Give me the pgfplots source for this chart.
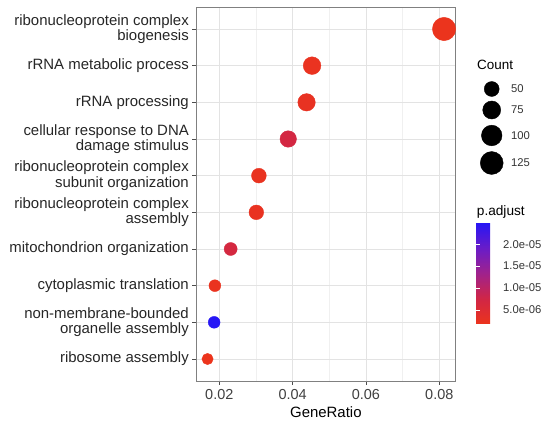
\documentclass[border=0pt]{standalone}
\usepackage{pgfplots}
\pgfplotsset{compat=1.18}
\usepackage{pgfplotstable}
\usepackage{fontspec}
\setmainfont{Liberation Sans}

\pgfplotstableread{
pos ratio count p
10 0.0813 130 2.0e-6
9  0.0453 72  2.3e-6
8  0.0438 70  2.6e-6
7  0.0388 62  7.0e-6
6  0.0308 49  2.4e-6
5  0.0301 48  2.5e-6
4  0.0231 37  6.8e-6
3  0.0188 30  2.2e-6
2  0.0186 30  2.49e-5
1  0.0168 27  1.8e-6
}\godata

\pgfplotstableread{
x y count
491.7 89 50
491.7 110 75
491.7 135.5 100
491.7 163 125
}\sizelegend

\pgfplotsset{
  colormap={ggrb}{rgb255(0)=(236,52,28); rgb255(1)=(208,38,70); rgb255(2)=(160,34,140); rgb255(3)=(105,28,200); rgb255(4)=(38,22,245)},
}

\begin{document}
\begin{tikzpicture}
\useasboundingbox (0,0) rectangle (549bp,421bp);
\begin{axis}[
  at={(196bp,40bp)}, anchor=south west,
  scale only axis, width=259.7bp, height=374bp,
  xmin=0.01365, xmax=0.08447, ymin=0.4, ymax=10.6,
  scaled x ticks=false,
  xtick={0.02,0.04,0.06,0.08},
  xticklabels={0.02,0.04,0.06,0.08},
  minor xtick={0.03,0.05,0.07},
  ytick={1,2,3,4,5,6,7,8,9,10},
  yticklabels={{ribosome assembly},{non-membrane-bounded\\organelle assembly},{cytoplasmic translation},{mitochondrion organization},{ribonucleoprotein complex\\assembly},{ribonucleoprotein complex\\subunit organization},{cellular response to DNA\\damage stimulus},{rRNA processing},{rRNA metabolic process},{ribonucleoprotein complex\\biogenesis}},
  xmajorgrids, xminorgrids, ymajorgrids,
  major grid style={black!11, line width=0.6bp},
  minor grid style={black!6, line width=0.5bp},
  axis line style={black!50, line width=0.7bp},
  tick align=outside, major tick length=3.5bp, minor tick length=0pt,
  tick style={black!70, line width=0.6bp},
  xtick pos=lower, ytick pos=left,
  xticklabel style={font=\fontsize{14.5}{14.5}\selectfont, text=black!75, inner sep=0pt, yshift=-5bp},
  yticklabel style={font=\fontsize{15}{15.3}\selectfont, text=black!85, align=right, inner sep=0pt, xshift=-3.5bp},
  xlabel={GeneRatio},
  xlabel style={font=\fontsize{15}{15}\selectfont, at={(axis description cs:0.5,0)}, anchor=center, yshift=-30.7bp},
  /pgf/number format/assume math mode=true,
  colormap name=ggrb,
  point meta min=1.8, point meta max=24.9,
  colorbar shift/.style={},
  colorbar,
  colorbar style={
    at={(parent axis.south east)}, anchor=south west, xshift=20.3bp, yshift=57bp,
    scale only axis, width=21.7bp, height=101.3bp,
    ytick={5,10,15,20},
    yticklabels={5.0e-06,1.0e-05,1.5e-05,2.0e-05},
    yticklabel pos=right,
    tick align=inside, major tick length=4.3bp,
    ytick style={white, line width=0.7bp},
    axis line style={draw=none},
    yticklabel style={font=\fontsize{11.3}{11.3}\selectfont, text=black!80, inner sep=0pt, xshift=5.3bp, anchor=west},
    xtick=\empty,
    ytick pos=both,
  },
]
\addplot[scatter, only marks, mark=*,
  point meta={\thisrow{p}*1e6},
  scatter/use mapped color={draw=mapped color, fill=mapped color},
  visualization depends on={0.62+0.973*sqrt(\thisrow{count}) \as \rad},
  scatter/@pre marker code/.append style={/tikz/mark size=\rad},
] table[x=ratio, y=pos] {\godata};
\end{axis}
\begin{axis}[
  at={(0,0)}, anchor=south west,
  scale only axis, width=549bp, height=421bp,
  xmin=0, xmax=549, ymin=0, ymax=421, y dir=reverse,
  hide axis, clip=false,
]
\addplot[scatter, only marks, mark=*, point meta=0,
  scatter/use mapped color={draw=black, fill=black},
  visualization depends on={0.62+0.973*sqrt(\thisrow{count}) \as \rad},
  scatter/@pre marker code/.append style={/tikz/mark size=\rad},
] table[x=x, y=y] {\sizelegend};
\node[anchor=west, inner sep=0pt, font=\fontsize{13.5}{13.5}\selectfont] at (axis cs:477,65) {Count};
\node[anchor=west, inner sep=0pt, font=\fontsize{11.3}{11.3}\selectfont, text=black!80] at (axis cs:511,89) {50};
\node[anchor=west, inner sep=0pt, font=\fontsize{11.3}{11.3}\selectfont, text=black!80] at (axis cs:511,110) {75};
\node[anchor=west, inner sep=0pt, font=\fontsize{11.3}{11.3}\selectfont, text=black!80] at (axis cs:511,135.5) {100};
\node[anchor=west, inner sep=0pt, font=\fontsize{11.3}{11.3}\selectfont, text=black!80] at (axis cs:511,163) {125};
\node[anchor=west, inner sep=0pt, font=\fontsize{13.7}{13.7}\selectfont] at (axis cs:476.7,212) {p.adjust};
\end{axis}
\end{tikzpicture}
\end{document}
